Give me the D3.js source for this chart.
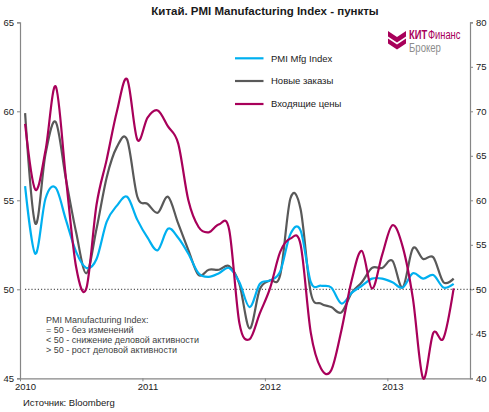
<!DOCTYPE html>
<html><head><meta charset="utf-8">
<script src="https://cdn.jsdelivr.net/npm/d3@7"></script>
<style>
body{margin:0;background:#fff;}
svg{display:block;font-family:"Liberation Sans",Arial,sans-serif;}
</style></head>
<body><svg id="c" width="489" height="412"></svg>
<script>
// ---- data (monthly, Jan 2010 – Jul 2013) ----
const years = ["2010","2011","2012","2013"];
const pmi = [55.8,52.0,55.1,55.7,53.9,52.1,51.2,51.7,53.8,54.7,55.2,53.9,
             52.9,52.2,53.4,52.9,52.0,50.9,50.7,50.9,51.2,50.4,49.0,50.3,
             50.5,51.0,53.1,53.3,50.4,50.2,50.1,49.2,49.8,50.2,50.6,50.6,
             50.4,50.1,50.9,50.6,50.8,50.1,50.3];
const newOrders = [59.9,53.7,57.6,59.4,56.2,53.2,50.9,53.4,56.3,58.0,58.4,55.2,
                   54.8,54.3,55.2,53.7,52.2,50.8,51.1,51.1,51.3,50.3,47.8,50.0,
                   50.5,50.8,55.1,54.5,49.8,49.2,49.0,48.7,49.8,50.4,51.2,51.2,
                   51.6,50.1,52.3,51.7,51.8,50.4,50.6];
const inputPrices = [68.6,61.2,65.6,72.8,62.5,52.5,50.1,59.5,64.6,70.0,73.6,66.8,
                     69.3,70.1,68.3,66.4,60.0,57.0,56.4,57.3,56.7,46.2,44.4,47.3,
                     50.1,54.2,55.7,55.0,45.1,41.1,40.9,45.4,51.0,54.3,50.1,53.9,
                     57.2,54.8,49.0,40.0,45.1,44.5,50.1];
const leftTicks = [45,50,55,60,65];
const rightTicks = [40,45,50,55,60,65,70,75,80];
const seriesNames = ["PMI Mfg Index","Новые заказы","Входящие цены"];
const noteLines = ["PMI Manufacturing Index:","= 50 - без изменений","< 50 - снижение деловой активности","> 50 - рост деловой активности"];

const svg = d3.select("#c");
const axisColor = "#868686";
const colors = ["#00B0F0","#595959","#A8005A"];

const x = d3.scaleLinear().domain([0,44.1]).range([20,470]);
const yL = d3.scaleLinear().domain([45,65]).range([378.3,22.3]);
const yR = d3.scaleLinear().domain([40,80]).range([378.3,22.3]);

// title
svg.append("text").attr("x",265).attr("y",15).attr("text-anchor","middle")
  .attr("font-size","11.5px").attr("font-weight","bold").attr("fill","#1a1a1a")
  .text("Китай. PMI Manufacturing Index - пункты");

// axes
function styleAxis(g){
  g.selectAll("path").attr("stroke",axisColor).attr("stroke-width",1.2);
  g.selectAll("line").attr("stroke",axisColor);
  g.selectAll("text").attr("fill","#1a1a1a").attr("font-size","9.5px")
    .attr("font-family","'Liberation Sans',Arial,sans-serif");
}
const gl = svg.append("g").attr("transform","translate(20,0)")
  .call(d3.axisLeft(yL).tickValues(leftTicks).tickSize(3).tickSizeOuter(3).tickPadding(3));
styleAxis(gl);
const gr = svg.append("g").attr("transform","translate(470,0)")
  .call(d3.axisRight(yR).tickValues(rightTicks).tickSize(3).tickSizeOuter(3).tickPadding(3));
styleAxis(gr);
const gb = svg.append("g").attr("transform","translate(0,378.3)")
  .call(d3.axisBottom(x).tickValues([0,12,24,36]).tickFormat((d,i)=>years[i]).tickSize(3).tickSizeOuter(0).tickPadding(2));
styleAxis(gb);
gb.selectAll(".tick text").attr("dx",5);

// dotted 50 line
svg.append("line").attr("x1",25).attr("x2",481).attr("y1",yL(50)).attr("y2",yL(50))
  .attr("stroke","#333").attr("stroke-width",1).attr("stroke-dasharray","1.2,2");

// lines
const curve = d3.curveCardinal.tension(0);
function draw(data, yS, col){
  const line = d3.line().x((d,i)=>x(i+0.5)).y(d=>yS(d)).curve(curve);
  svg.append("path").datum(data).attr("d",line).attr("fill","none")
    .attr("stroke",col).attr("stroke-width",2.2).attr("stroke-linejoin","round");
}
draw(newOrders, yL, colors[1]);
draw(pmi, yL, colors[0]);
draw(inputPrices, yR, colors[2]);

// legend
const legY = [58.3,81,104];
seriesNames.forEach((n,i)=>{
  svg.append("line").attr("x1",235).attr("x2",263.5).attr("y1",legY[i]).attr("y2",legY[i])
    .attr("stroke",colors[i]).attr("stroke-width",2.2);
  svg.append("text").attr("x",271).attr("y",legY[i]+3.3).attr("font-size","9.5px")
    .attr("fill","#1a1a1a").text(n);
});

// note
noteLines.forEach((t,i)=>{
  svg.append("text").attr("x",46).attr("y",322.5+i*10).attr("font-size","9px")
    .attr("fill","#404040").text(t);
});

// source
svg.append("text").attr("x",23).attr("y",406).attr("font-size","9.5px")
  .attr("fill","#1a1a1a").text("Источник: Bloomberg");

// logo
const lg = svg.append("g");
lg.append("path").attr("fill","#A8005A")
  .attr("d","M388,31 L397,37 L406,31 L406,36.5 L397,42.5 L388,36.5 Z M388,38.5 L397,44.5 L406,38.5 L406,43.5 L397,49.5 L388,43.5 Z");
const l1 = lg.append("g").attr("transform","translate(409,38.5) scale(0.78,1)");
const kit = l1.append("text").attr("x",0).attr("y",0).attr("font-size","12px").attr("font-weight","bold")
  .attr("fill","#A8005A").text("КИТ");
const kw = kit.node().getComputedTextLength();
l1.append("text").attr("x",kw+1).attr("y",0).attr("font-size","12px")
  .attr("fill","#A8005A").text("Финанс");
lg.append("g").attr("transform","translate(409,52) scale(0.8,1)")
  .append("text").attr("x",0).attr("y",0).attr("font-size","12px").attr("fill","#8c8c8c").text("Брокер");
</script></body></html>
